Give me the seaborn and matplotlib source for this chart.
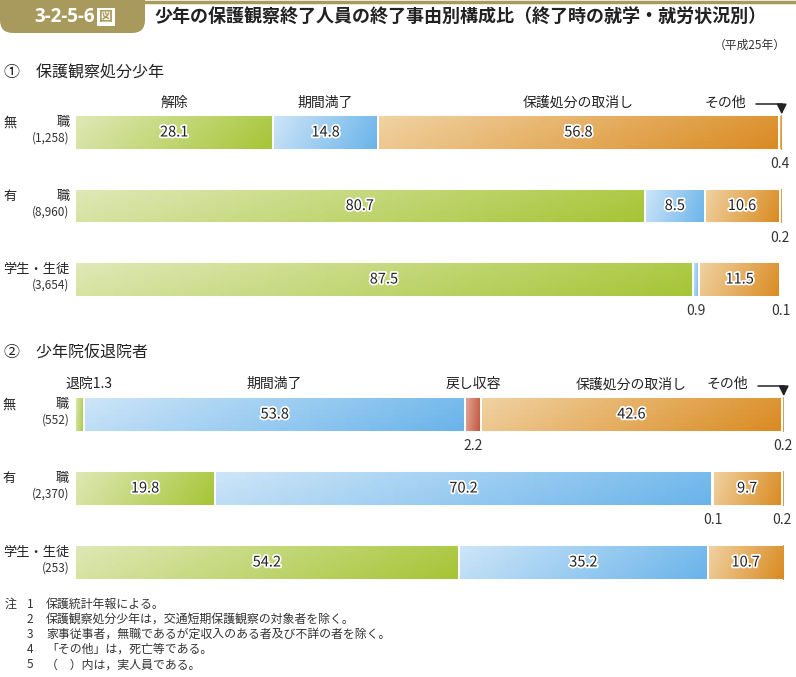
import numpy as np
import matplotlib.pyplot as plt
import matplotlib.patheffects as pe
from matplotlib.patches import FancyBboxPatch
import seaborn as sns

sns.set_theme(style='white')
plt.rcParams['font.family'] = ['Noto Sans CJK JP', 'DejaVu Sans']

# ---- data ----
rows = ['無職', '有職', '学生・生徒']
row_left = ['無', '有', '']
row_right = ['職', '職', '学生・生徒']

# ① 保護観察処分少年
p1_counts = ['(1,258)', '(8,960)', '(3,654)']
p1_cats = ['解除', '期間満了', '保護処分の取消し', 'その他']
p1_vals = [
    [28.1, 14.8, 56.8, 0.4],
    [80.7, 8.5, 10.6, 0.2],
    [87.5, 0.9, 11.5, 0.1],
]

# ② 少年院仮退院者
p2_counts = ['(552)', '(2,370)', '(253)']
p2_cats = ['退院', '期間満了', '戻し収容', '保護処分の取消し', 'その他']
p2_vals = [
    [1.3, 53.8, 2.2, 42.6, 0.2],
    [19.8, 70.2, 0.1, 9.7, 0.2],
    [54.2, 35.2, 0.0, 10.7, 0.0],
]

notes = [
    ('注', '1', '保護統計年報による。'),
    ('', '2', '保護観察処分少年は，交通短期保護観察の対象者を除く。'),
    ('', '3', '家事従事者，無職であるが定収入のある者及び不詳の者を除く。'),
    ('', '4', '「その他」は，死亡等である。'),
    ('', '5', '（　）内は，実人員である。'),
]

# gradient colour pairs (light -> dark)
grad = {
    '解除': ('#dfe8b6', '#a6c536'),
    '退院': ('#dfe8b6', '#a6c536'),
    '期間満了': ('#cde5f8', '#6ab4ea'),
    '戻し収容': ('#e2ab9a', '#c4533a'),
    '保護処分の取消し': ('#f0d2a2', '#da8b22'),
    'その他': ('#f0d2a2', '#da8b22'),
}

W, H = 796, 677
fig = plt.figure(figsize=(W / 100, H / 100), dpi=100)
olive = '#a89a5c'
dark = '#222222'


def fx(px):
    return px / W


def fy(py):
    return 1 - py / H


# ---- header ----
hdr = fig.add_axes([0, 0, 1, 1], zorder=-1)
hdr.set_xlim(0, W)
hdr.set_ylim(H, 0)
hdr.axis('off')
hdr.add_patch(FancyBboxPatch((0, -20), 145, 53, boxstyle='round,pad=0,rounding_size=13',
                             fc=olive, ec='none'))
hdr.plot([145, W], [2, 2], color=olive, lw=2.5)
fig.text(fx(95), fy(17), '3-2-5-6', color='white', fontsize=13.5, fontweight='bold',
         va='center', ha='right', family='Open Sans')
fig.text(fx(106), fy(17), '図', color=olive, fontsize=10, fontweight='bold', va='center',
         ha='center', bbox=dict(boxstyle='square,pad=0.12', fc='white', ec='none'))
fig.text(fx(155), fy(17), '少年の保護観察終了人員の終了事由別構成比（終了時の就学・就労状況別）',
         fontsize=13, fontweight='bold', color=dark, va='center', ha='left')
fig.text(fx(786), fy(45), '（平成25年）', fontsize=8.5, color='#333333', va='center', ha='right')
fig.text(fx(4), fy(73), '①　保護観察処分少年', fontsize=11.5, color=dark, va='center')
fig.text(fx(4), fy(353), '②　少年院仮退院者', fontsize=11.5, color=dark, va='center')

bar_h = 0.476


def draw_panel(ax, cats, vals, counts):
    ax.set_xlim(0, 100)
    ax.set_ylim(2.5, -0.5)
    ax.axis('off')
    xs = np.linspace(0, 1, 64)
    ys = np.linspace(0, 1, 8)
    g = 0.85 * xs[None, :] + 0.15 * ys[:, None]
    for r, rv in enumerate(vals):
        lefts = np.concatenate([[0], np.cumsum(rv)[:-1]])
        for c, (cat, v, l) in enumerate(zip(cats, rv, lefts)):
            if v <= 0:
                continue
            cmap = sns.blend_palette(grad[cat], as_cmap=True)
            bars = ax.barh(r, v, left=l, height=bar_h, facecolor='none',
                           edgecolor='white', linewidth=1.4, zorder=3)
            im = ax.imshow(g, cmap=cmap, aspect='auto', zorder=2,
                           extent=[l, l + v, r + bar_h / 2, r - bar_h / 2])
            im.set_clip_path(bars.patches[0])
            cx = l + v / 2
            if v >= 5:
                ax.text(cx, r, f'{v:.1f}', ha='center', va='center', fontsize=10.5,
                        color=dark, zorder=5,
                        path_effects=[pe.withStroke(linewidth=2.5, foreground='white')])
            elif not (r == 0 and c == 0 and cats[0] == '退院'):
                ax.text(cx, r + 0.43, f'{v:.1f}', ha='center', va='center', fontsize=10,
                        color='#333333')
        # row labels
        tr = ax.get_yaxis_transform()
        if row_left[r]:
            ax.text(-0.102, r - 0.13, row_left[r], transform=tr, ha='left', va='center',
                    fontsize=9.5, color=dark)
        ax.text(-0.008, r - 0.13, row_right[r], transform=tr, ha='right', va='center',
                fontsize=9.5, color=dark)
        ax.text(-0.008, r + 0.08, counts[r], transform=tr, ha='right', va='center',
                fontsize=8.5, color='#333333')
    # category headers above first row
    rv = vals[0]
    lefts = np.concatenate([[0], np.cumsum(rv)[:-1]])
    ytop = -bar_h / 2 - 0.17
    for cat, v, l in zip(cats, rv, lefts):
        if cat == 'その他':
            continue
        if cat == '退院':
            ax.text(-1.3, ytop, f'{cat}{v:.1f}', ha='left', va='center', fontsize=10,
                    color=dark, clip_on=False)
        else:
            ax.text(l + v / 2, ytop, cat, ha='center', va='center', fontsize=10, color=dark)
    end = sum(rv)
    ax.text(end - 5.0, ytop, 'その他', ha='right', va='center', fontsize=10, color=dark)
    ax.plot([end - 3.6, end], [ytop + 0.02, ytop + 0.02], color=dark, lw=1.1, clip_on=False)
    ax.annotate('', xy=(end, -bar_h / 2 - 0.01), xytext=(end, ytop + 0.02),
                annotation_clip=False,
                arrowprops=dict(arrowstyle='-|>', color=dark, lw=1.1, mutation_scale=15,
                                shrinkA=0, shrinkB=0))


left = fx(75)
width = 706 / W
ax1 = fig.add_axes([left, fy(316.25), width, 220.5 / H])
draw_panel(ax1, p1_cats, p1_vals, p1_counts)
ax2 = fig.add_axes([left, fy(599.5), width + 2 / W, 222 / H])
draw_panel(ax2, p2_cats, p2_vals, p2_counts)

# ---- notes ----
for i, (a, n, t) in enumerate(notes):
    y = fy(604 + i * 15.2)
    if a:
        fig.text(fx(5), y, a, fontsize=8.6, color='#333333', va='center')
    fig.text(fx(27), y, n, fontsize=8.6, color='#333333', va='center')
    fig.text(fx(46), y, t, fontsize=8.6, color='#333333', va='center')

fig.savefig('out.png', dpi=100)
